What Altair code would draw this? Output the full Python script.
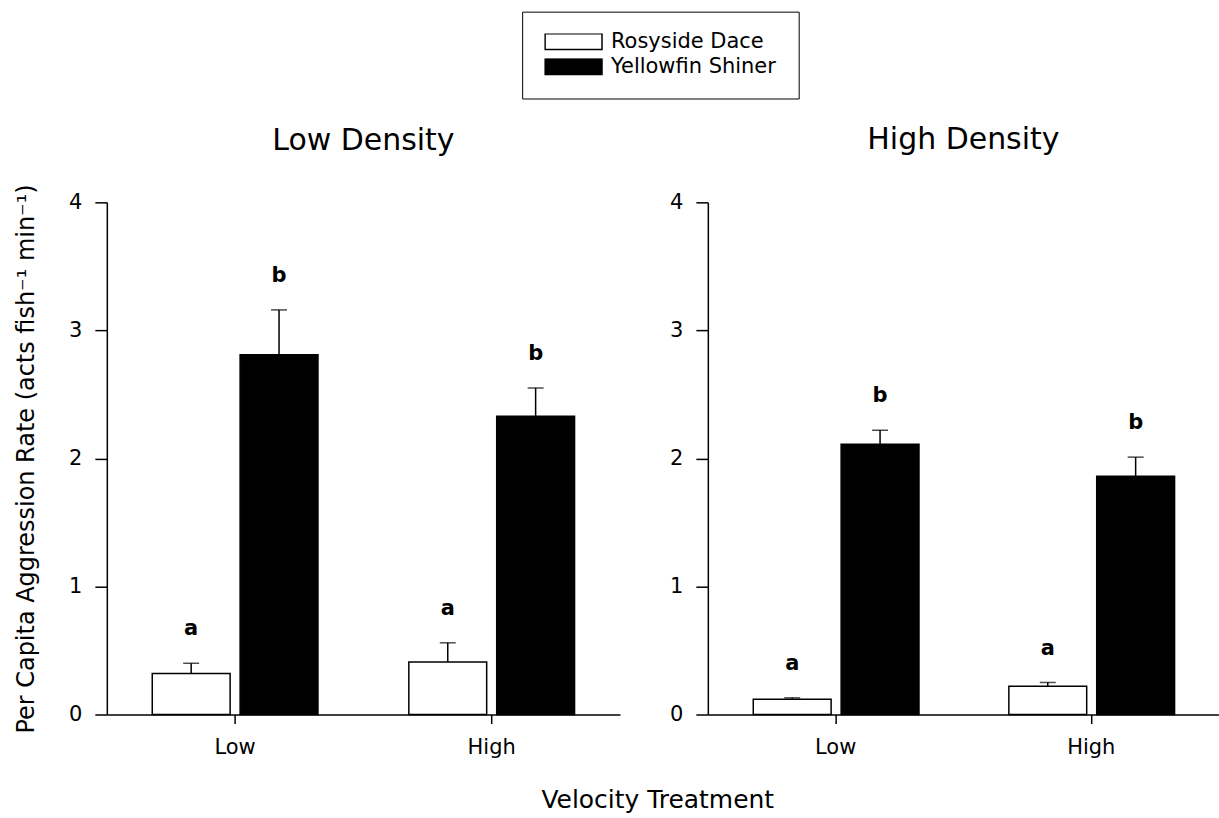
import altair as alt
import pandas as pd

FONT = "DejaVu Sans"

densities = ["Low Density", "High Density"]
velocities = ["Low", "High"]
species = ["Rosyside Dace", "Yellowfin Shiner"]

density_col = ["Low Density"] * 4 + ["High Density"] * 4
velocity_col = ["Low", "Low", "High", "High"] * 2
species_col = ["Rosyside Dace", "Yellowfin Shiner"] * 4
mean_vals = [0.32, 2.81, 0.41, 2.33, 0.12, 2.11, 0.22, 1.86]
se_vals = [0.08, 0.35, 0.15, 0.22, 0.01, 0.11, 0.03, 0.15]
letters = ["a", "b", "a", "b", "a", "b", "a", "b"]
y_ticks = [0, 1, 2, 3, 4]

df = pd.DataFrame({
    "density": density_col,
    "velocity": velocity_col,
    "species": species_col,
    "mean": mean_vals,
    "se": se_vals,
    "letter": letters,
})

Y_TITLE = "Per Capita Aggression Rate (acts fish\u207b\u00b9 min\u207b\u00b9)"


def panel(density, width, show_ytitle, title_offset):
    base = alt.Chart(df).transform_filter(
        alt.datum.density == density
    ).transform_calculate(upper="datum.mean + datum.se")

    x = alt.X("velocity:N", sort=velocities,
              scale=alt.Scale(paddingInner=0, paddingOuter=0),
              axis=alt.Axis(title=None, labelAngle=0, tickSize=9,
                            labelPadding=13, labelFontSize=21))
    xo = alt.XOffset("species:N", sort=species,
                     scale=alt.Scale(paddingInner=0.114, paddingOuter=0.517))
    if show_ytitle:
        yaxis = alt.Axis(values=y_ticks, tickSize=12, labelPadding=13,
                         labelFontSize=21, format="d", title=Y_TITLE,
                         titleFontSize=24, titleFontWeight="normal",
                         titlePadding=30)
    else:
        yaxis = alt.Axis(values=y_ticks, tickSize=12, labelPadding=13,
                         labelFontSize=21, format="d", title=None)
    yscale = alt.Scale(domain=[0, 4], nice=False, zero=True)

    color = alt.Color(
        "species:N", sort=species,
        scale=alt.Scale(domain=species, range=["white", "black"]),
        legend=alt.Legend(
            title=None, orient="none", legendX=416, legendY=-191,
            direction="vertical",
            symbolType="M-1,-0.28L1,-0.28L1,0.28L-1,0.28Z",
            symbolSize=3249, symbolStrokeColor="black",
            symbolStrokeWidth=1.5, symbolOpacity=1, clipHeight=16,
            labelFontSize=21, labelFont=FONT, labelColor="black",
            labelOffset=8, labelLimit=400, rowPadding=4, padding=22,
            strokeColor="black", fillColor="white",
        ),
    )

    bars = base.mark_bar(stroke="black", strokeWidth=1.5, opacity=1).encode(
        x=x, xOffset=xo, y=alt.Y("mean:Q", scale=yscale, axis=yaxis), color=color
    )
    err = base.mark_rule(color="black", strokeWidth=1.5).encode(
        x=x, xOffset=xo, y=alt.Y("mean:Q", scale=yscale, axis=yaxis), y2="upper:Q"
    )
    cap = base.mark_tick(color="black", thickness=1.5, size=16,
                         orient="horizontal").encode(
        x=x, xOffset=xo, y=alt.Y("upper:Q", scale=yscale, axis=yaxis)
    )
    txt = base.mark_text(fontWeight="bold", fontSize=21, dy=-34,
                         baseline="middle", font=FONT, color="black").encode(
        x=x, xOffset=xo, y=alt.Y("upper:Q", scale=yscale, axis=yaxis),
        text="letter:N"
    )
    return alt.layer(bars, err, cap, txt).properties(
        width=width, height=513,
        title=alt.TitleParams(density, fontSize=30, fontWeight="normal",
                              offset=title_offset, baseline="alphabetic",
                              anchor="middle", font=FONT, color="black"),
    )


left = panel("Low Density", 514, True, 4)
right = panel("High Density", 512, False, 12)

chart = alt.hconcat(left, right, spacing=49).resolve_scale(
    color="shared", x="independent", y="independent"
).resolve_legend(color="shared").properties(
    title=alt.TitleParams("Velocity Treatment", orient="bottom",
                          anchor="middle", fontSize=25, fontWeight="normal",
                          offset=51, dx=41, baseline="alphabetic",
                          font=FONT, color="black"),
    padding={"left": 14, "top": 10, "right": 0, "bottom": 0},
).configure(font=FONT).configure_view(strokeWidth=0).configure_axis(
    domainColor="black", domainWidth=1.5, tickColor="black", tickWidth=1.5,
    labelColor="black", titleColor="black", grid=False,
    labelFont=FONT, titleFont=FONT,
)

chart.save("out.html", embed_options={"renderer": "svg", "actions": False})
